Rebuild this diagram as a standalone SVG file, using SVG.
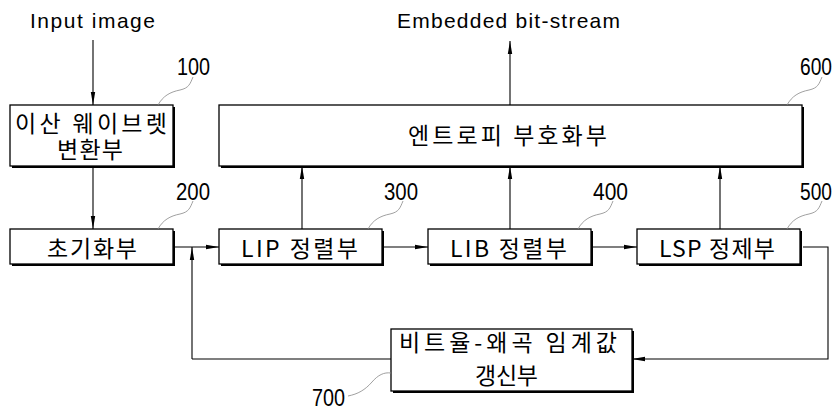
<svg xmlns="http://www.w3.org/2000/svg" width="837" height="412" viewBox="0 0 837 412">
<style>
.shadow{fill:#000}
.box{fill:#fff;stroke:#000;stroke-width:1.3}
.kr{font-family:"Noto Sans CJK KR","Noto Sans",sans-serif;font-size:23px;fill:#000}
.lat{font-family:"Liberation Sans","DejaVu Sans",sans-serif;font-size:21px;fill:#000}
.num{font-family:"Liberation Sans","DejaVu Sans",sans-serif;font-size:23px;fill:#000}
.ln{fill:none;stroke:#000;stroke-width:1.1}
.lead{fill:none;stroke:#888;stroke-width:0.8}
</style>
<defs>
<marker id="ah" markerWidth="14" markerHeight="6" refX="13" refY="3" orient="auto" markerUnits="userSpaceOnUse">
<path d="M0,0.8 L13,3 L0,5.2 Z" fill="#000"/>
</marker>
</defs>

<text class="lat" x="30" y="28" textLength="125" lengthAdjust="spacing">Input image</text>
<text class="lat" x="397" y="28" textLength="223" lengthAdjust="spacing">Embedded bit-stream</text>

<g id="connectors">
<path class="ln" d="M93,40 V105" marker-end="url(#ah)"/>
<path class="ln" d="M93,166 V229" marker-end="url(#ah)"/>
<path class="ln" d="M175,247 H219" marker-end="url(#ah)"/>
<path class="ln" d="M192,359 V247" marker-end="url(#ah)"/>
<path class="ln" d="M384,247 H428" marker-end="url(#ah)"/>
<path class="ln" d="M593,247 H637" marker-end="url(#ah)"/>
<path class="ln" d="M803,247 H828 V359 H632" marker-end="url(#ah)"/>
<path class="ln" d="M391,359 H192"/>
<path class="ln" d="M302,229 V166" marker-end="url(#ah)"/>
<path class="ln" d="M510,229 V166" marker-end="url(#ah)"/>
<path class="ln" d="M720,229 V166" marker-end="url(#ah)"/>
<path class="ln" d="M510,105 V41" marker-end="url(#ah)"/>
</g>

<g id="n100">
<rect class="shadow" x="12" y="107" width="163" height="61"/>
<rect class="box" x="10" y="105" width="163" height="61"/>
<text class="kr" x="15" y="132" textLength="152" lengthAdjust="spacing">이산 웨이브렛</text>
<text class="kr" x="57" y="158" textLength="66" lengthAdjust="spacing">변환부</text>
<path class="lead" d="M158,105 C163,96 170,92 180,90 C189,88 190,84 193,77"/>
<text class="num" x="177" y="75" textLength="33" lengthAdjust="spacingAndGlyphs">100</text>
</g>

<g id="n600">
<rect class="shadow" x="221" y="107" width="583" height="61"/>
<rect class="box" x="219" y="105" width="583" height="61"/>
<text class="kr" x="408" y="144" textLength="199" lengthAdjust="spacing">엔트로피 부호화부</text>
<path class="lead" d="M787,105 C792,96 799,92 809,90 C818,88 819,84 822,77"/>
<text class="num" x="800" y="75" textLength="32" lengthAdjust="spacingAndGlyphs">600</text>
</g>

<g id="n200">
<rect class="shadow" x="12" y="231" width="163" height="35"/>
<rect class="box" x="10" y="229" width="163" height="35"/>
<text class="kr" x="47" y="257" textLength="90" lengthAdjust="spacing">초기화부</text>
<path class="lead" d="M158,229 C163,220 170,216 180,214 C189,212 190,208 193,201"/>
<text class="num" x="176" y="200" textLength="34" lengthAdjust="spacingAndGlyphs">200</text>
</g>

<g id="n300">
<rect class="shadow" x="221" y="231" width="163" height="35"/>
<rect class="box" x="219" y="229" width="163" height="35"/>
<text class="kr" x="241" y="257" textLength="117" lengthAdjust="spacing">LIP 정렬부</text>
<path class="lead" d="M368,229 C373,220 380,216 390,214 C399,212 400,208 403,201"/>
<text class="num" x="384" y="200" textLength="34" lengthAdjust="spacingAndGlyphs">300</text>
</g>

<g id="n400">
<rect class="shadow" x="430" y="231" width="163" height="35"/>
<rect class="box" x="428" y="229" width="163" height="35"/>
<text class="kr" x="450" y="257" textLength="117" lengthAdjust="spacing">LIB 정렬부</text>
<path class="lead" d="M578,229 C583,220 590,216 600,214 C609,212 610,208 613,201"/>
<text class="num" x="593" y="200" textLength="35" lengthAdjust="spacingAndGlyphs">400</text>
</g>

<g id="n500">
<rect class="shadow" x="639" y="231" width="163" height="35"/>
<rect class="box" x="637" y="229" width="163" height="35"/>
<text class="kr" x="659" y="257" textLength="116" lengthAdjust="spacing">LSP 정제부</text>
<path class="lead" d="M787,229 C792,220 799,216 809,214 C818,212 819,208 822,201"/>
<text class="num" x="800" y="200" textLength="32" lengthAdjust="spacingAndGlyphs">500</text>
</g>

<g id="n700">
<rect class="shadow" x="393" y="331" width="241" height="62"/>
<rect class="box" x="391" y="329" width="241" height="62"/>
<text class="kr" x="399" y="351" textLength="218" lengthAdjust="spacing">비트율-왜곡 임계값</text>
<text class="kr" x="475" y="384" textLength="63" lengthAdjust="spacing">갱신부</text>
<path class="lead" d="M391,373 C384,372 378,375 372,382 C365,390 358,394 348,396"/>
<text class="num" x="312" y="406" textLength="33" lengthAdjust="spacingAndGlyphs">700</text>
</g>
</svg>
